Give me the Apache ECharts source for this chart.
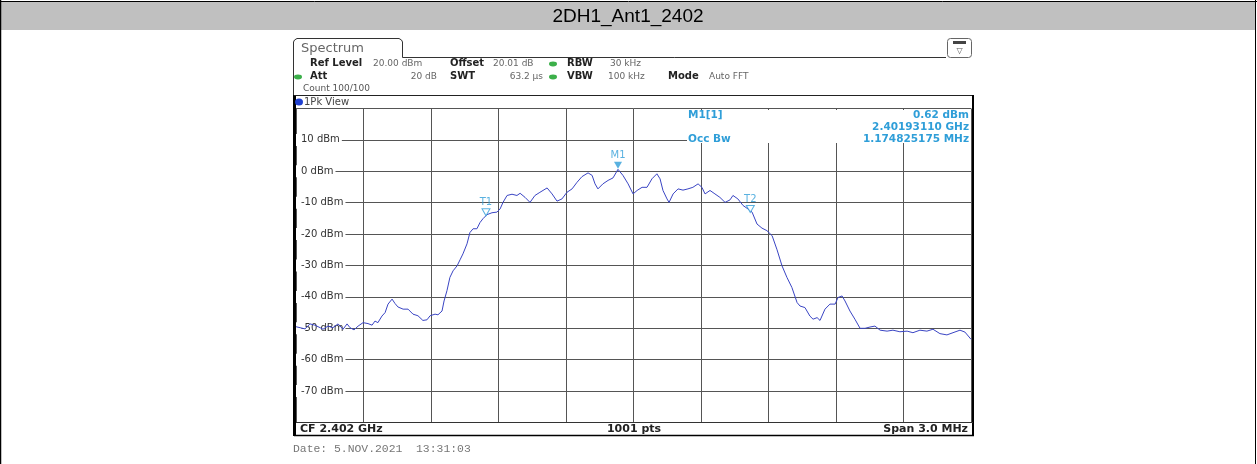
<!DOCTYPE html>
<html><head><meta charset="utf-8">
<script src="https://cdn.jsdelivr.net/npm/echarts@6/dist/echarts.min.js"></script>
<style>html,body{margin:0;padding:0;background:#fff}#c{width:1257px;height:464px}</style>
</head><body><div id="c"></div>
<script>
// Frequency offset from CF (2.402 GHz), in MHz
const freqOffsetMHz = [-1.500,-1.482,-1.460,-1.438,-1.416,-1.393,-1.380,-1.358,-1.336,-1.313,-1.291,-1.273,-1.260,-1.242,-1.224,-1.202,-1.180,-1.162,-1.149,-1.136,-1.118,-1.104,-1.091,-1.073,-1.060,-1.047,-1.024,-1.002,-0.980,-0.958,-0.936,-0.918,-0.904,-0.882,-0.869,-0.851,-0.842,-0.829,-0.816,-0.802,-0.784,-0.771,-0.758,-0.740,-0.727,-0.713,-0.696,-0.682,-0.669,-0.651,-0.629,-0.607,-0.593,-0.580,-0.562,-0.540,-0.518,-0.504,-0.482,-0.460,-0.438,-0.416,-0.384,-0.362,-0.340,-0.318,-0.296,-0.273,-0.251,-0.229,-0.202,-0.184,-0.171,-0.158,-0.136,-0.113,-0.091,-0.069,-0.047,-0.024,-0.002,0.016,0.038,0.060,0.082,0.104,0.118,0.131,0.149,0.158,0.176,0.198,0.220,0.242,0.264,0.287,0.304,0.318,0.340,0.362,0.384,0.407,0.429,0.442,0.464,0.487,0.509,0.527,0.549,0.571,0.593,0.616,0.638,0.660,0.682,0.704,0.727,0.740,0.762,0.784,0.798,0.816,0.829,0.851,0.873,0.896,0.909,0.927,0.940,0.962,0.984,1.007,1.029,1.051,1.073,1.096,1.127,1.153,1.184,1.216,1.242,1.273,1.304,1.331,1.362,1.393,1.420,1.451,1.473,1.500];
// Trace level, dBm
const levelDbm = [-49.5,-49.8,-50.2,-48.6,-49.0,-49.8,-50.3,-49.3,-49.8,-48.6,-50.3,-48.6,-49.8,-50.5,-49.3,-48.2,-48.5,-49.0,-47.7,-48.2,-46.1,-45.0,-42.3,-40.7,-42.1,-43.2,-43.9,-43.9,-45.5,-46.0,-47.5,-47.3,-46.0,-45.5,-45.7,-44.5,-41.3,-38.0,-33.8,-31.7,-30.1,-28.2,-26.3,-23.1,-19.5,-18.3,-18.3,-16.3,-15.1,-13.8,-13.2,-13.0,-12.0,-9.9,-7.7,-7.3,-7.7,-7.0,-8.3,-9.9,-7.7,-6.7,-5.3,-7.2,-9.5,-8.8,-6.7,-5.6,-3.5,-1.7,-0.5,-1.3,-4.0,-5.6,-4.0,-2.9,-2.1,0.62,-1.3,-4.0,-7.2,-6.1,-5.1,-5.1,-2.4,-0.8,-2.4,-6.1,-8.8,-9.9,-7.2,-5.6,-6.0,-5.6,-5.1,-4.0,-5.1,-7.2,-6.1,-7.2,-8.3,-9.9,-9.1,-7.7,-8.8,-10.9,-12.0,-13.0,-16.8,-18.1,-18.9,-20.5,-25.0,-30.1,-33.8,-37.0,-41.8,-42.9,-43.4,-46.1,-47.1,-46.6,-47.5,-43.9,-42.3,-42.3,-40.2,-39.7,-41.3,-44.5,-47.1,-50.0,-50.0,-49.6,-49.3,-50.6,-50.9,-50.6,-51.1,-50.9,-51.4,-50.6,-50.9,-50.3,-51.7,-52.1,-51.4,-50.6,-51.2,-53.5];
// Markers
const markerNames = ['M1','T1','T2'];
const markerFreqMHz = [-0.0689,-0.6556,0.5192];
const markerLevelDbm = [0.62,-14.3,-13.3];
const markerFilled = [true,false,false];
// Marker info table area (freq offset MHz, dBm corners)
const infoBoxFreq = [0.238, 1.5];
const infoBoxLevel = [19.5, 9.0];

const CY = '#2f9ed8';
const F = '"DejaVu Sans", Verdana, sans-serif';
function T(text, x, y, o) {
  o = o || {};
  return {type:'text', zlevel:1, z: o.z || 100, style:{text:text, x:x, y:y, fill:o.fill||'#333',
    font:(o.bold?'bold ':'')+(o.size||10)+'px '+(o.family||F),
    textAlign:o.align||'left', align:o.align||'left', textVerticalAlign:'middle', verticalAlign:'middle'}};
}
function L(x1,y1,x2,y2,w,c,z){return {type:'line', zlevel:1, z:z||100, shape:{x1:x1,y1:y1,x2:x2,y2:y2}, style:{stroke:c||'#000', lineWidth:w||1}};}
function DOT(cx,cy,c,sy){return {type:'circle', zlevel:1, z:100, x:cx, y:cy, scaleY:sy||1, shape:{cx:0,cy:0,r:4}, style:{fill:c}};}

const graphic = [
  {type:'rect', id:'mkbox', zlevel:1, z:95, shape:{x:687,y:110,width:284,height:33}, style:{fill:'#fff'}},
  {type:'rect', id:'cfbar', zlevel:1, z:95, shape:{x:296,y:423,width:677,height:12}, style:{fill:'#fff'}},
  {type:'rect', id:'titlebar', zlevel:1, z:90, shape:{x:1,y:2,width:1254,height:28}, style:{fill:'#c0c0c0'}},
  L(0.5,0,0.5,464,1.5,'#000'), L(1255.5,0,1255.5,464,1,'#000'), L(0,1.5,1257,1.5,1,'#000'),
  T('2DH1_Ant1_2402', 628, 16.5, {align:'center', size:19, family:'"Liberation Sans", Arial, sans-serif', fill:'#000'}),
  // tab
  {type:'polyline', zlevel:1, z:100, shape:{points:[[293.5,95],[293.5,42],[294.5,40],[297,38.5],[399,38.5],[401.5,40],[402.5,42],[402.5,57.5],[946,57.5]]}, style:{stroke:'#333', lineWidth:1, fill:'none'}},
  T('Spectrum', 301, 48.5, {size:13, fill:'#666'}),
  {type:'rect', zlevel:1, z:100, shape:{x:947.5,y:38.5,width:24,height:19,r:3}, style:{fill:'#fff', stroke:'#666', lineWidth:1}},
  {type:'rect', zlevel:1, z:101, shape:{x:953,y:41,width:13,height:3}, style:{fill:'#444'}},
  T('\u25BD', 959.5, 50.5, {align:'center', size:8, fill:'#555', z:102}),
  // header rows
  T('Ref Level', 310, 63.5, {bold:true, fill:'#222'}), T('20.00 dBm', 373, 63.5, {size:9, fill:'#666'}),
  T('Offset', 450, 63.5, {bold:true, fill:'#222'}), T('20.01 dB', 493, 63.5, {size:9, fill:'#666'}),
  DOT(553,64,'#3cb04a',0.6),
  T('RBW', 567, 63.5, {bold:true, fill:'#222'}), T('30 kHz', 610, 63.5, {size:9, fill:'#666'}),
  DOT(298,77,'#3cb04a',0.6),
  T('Att', 310, 76.5, {bold:true, fill:'#222'}), T('20 dB', 437, 76.5, {size:9, fill:'#666', align:'right'}),
  T('SWT', 450, 76.5, {bold:true, fill:'#222'}), T('63.2 \u00B5s', 543, 76.5, {size:9, fill:'#666', align:'right'}),
  DOT(553,77,'#3cb04a',0.6),
  T('VBW', 567, 76.5, {bold:true, fill:'#222'}), T('100 kHz', 608, 76.5, {size:9, fill:'#666'}),
  T('Mode', 668, 76.5, {bold:true, fill:'#222'}), T('Auto FFT', 709, 76.5, {size:9, fill:'#666'}),
  T('Count 100/100', 303, 88.5, {size:9, fill:'#555'}),
  // frame
  L(294.5,95,294.5,436,3,'#000'), L(294,95.5,974,95.5,1,'#222'), L(973,95,973,436,2,'#000'), L(294,435.5,974,435.5,1.5,'#000'),
  DOT(299,102,'#1f3fd0',0.9),
  T('1Pk View', 304, 102, {fill:'#444'}),
  T('M1[1]', 688, 115.5, {bold:true, fill:CY, size:10.5}), T('0.62 dBm', 969, 115.5, {bold:true, fill:CY, align:'right', size:10.5}),
  T('2.40193110 GHz', 969, 127, {bold:true, fill:CY, align:'right', size:10.5}),
  T('Occ Bw', 688, 139, {bold:true, fill:CY, size:10.5}), T('1.174825175 MHz', 969, 139, {bold:true, fill:CY, align:'right', size:10.5}),
  // bottom bar
  L(296,422.5,973,422.5,1,'#333'),
  T('CF 2.402 GHz', 300, 429, {bold:true, fill:'#222', size:11}),
  T('1001 pts', 634, 429, {bold:true, fill:'#222', align:'center', size:11}),
  T('Span 3.0 MHz', 968, 429, {bold:true, fill:'#222', align:'right', size:11}),
  T('Date: 5.NOV.2021  13:31:03', 293, 449, {size:11.4, family:'"Liberation Mono", "DejaVu Sans Mono", monospace', fill:'#777'})
];

const chart = echarts.init(document.getElementById('c'), null, {renderer:'canvas'});
chart.setOption({
  animation:false,
  backgroundColor:'#fff',
  grid:{left:296, top:108.5, width:675, height:314, containLabel:false},
  xAxis:{type:'value', min:-1.5, max:1.5, interval:0.3,
    axisLine:{show:false}, axisTick:{show:false}, axisLabel:{show:false},
    splitLine:{show:true, lineStyle:{color:'#555', width:1}}},
  yAxis:{type:'value', min:-80, max:20, interval:10,
    axisLine:{show:false}, axisTick:{show:false},
    axisLabel:{inside:true, margin:0, showMinLabel:false, showMaxLabel:false,
      formatter:function(v){return v + ' dBm';},
      fontFamily:'DejaVu Sans', fontSize:10, color:'#333', backgroundColor:'#fff', padding:[1,2,1,5]},
    splitLine:{show:true, lineStyle:{color:'#555', width:1}}},
  series:[
    {type:'line', data:freqOffsetMHz.map(function(f,i){return [f, levelDbm[i]];}),
      symbol:'none', lineStyle:{color:'#3a45c4', width:1}, z:3, silent:true,
      markArea:{silent:true, itemStyle:{color:'#fff', opacity:1}, label:{show:false},
        data:[[{coord:[infoBoxFreq[0], infoBoxLevel[0]]}, {coord:[infoBoxFreq[1], infoBoxLevel[1]]}]]}},
    {type:'scatter', z:4, symbol:'triangle', symbolRotate:180, symbolSize:[8,7], symbolOffset:[0,-4],
      data:markerNames.map(function(n,i){return {name:n, value:[markerFreqMHz[i], markerLevelDbm[i]],
        itemStyle: markerFilled[i] ? {color:CY} : {color:'#fff', borderColor:CY, borderWidth:1}};}),
      label:{show:true, position:'top', distance:1, formatter:function(p){return p.name;}, color:CY, fontSize:10, fontFamily:'DejaVu Sans'}}
  ],
  graphic:graphic
});
</script></body></html>
